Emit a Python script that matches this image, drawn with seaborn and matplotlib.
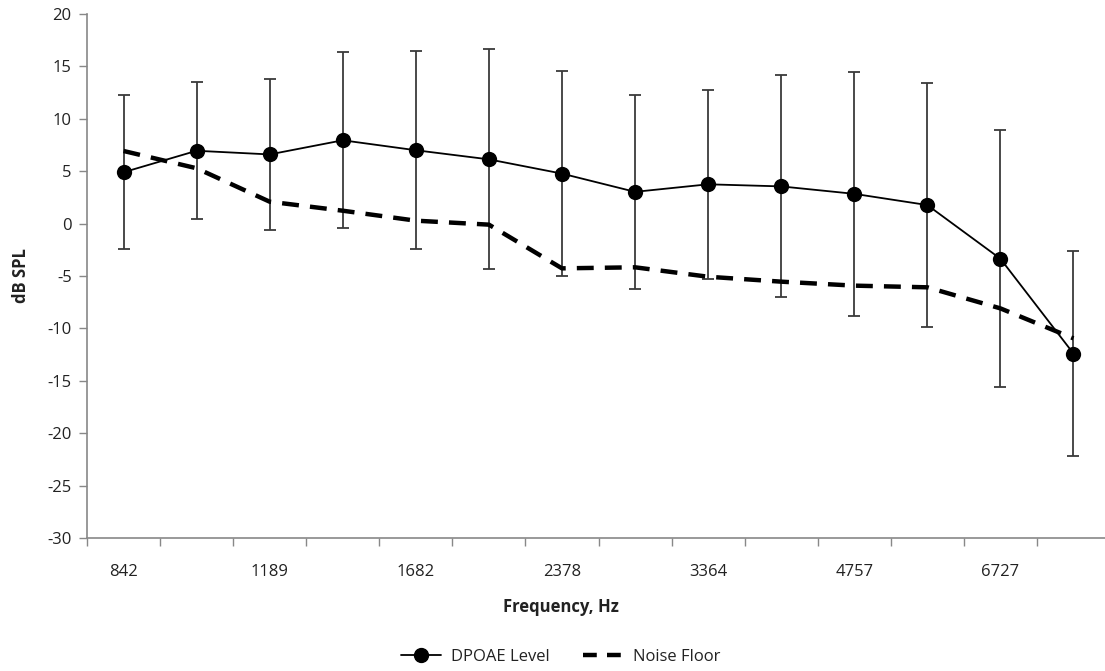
import numpy as np
import pandas as pd
import matplotlib
matplotlib.use("Agg")
import matplotlib.pyplot as plt
from matplotlib.lines import Line2D
import seaborn as sns

# Frequencies (Hz), DPOAE means, standard deviations and noise floor (dB SPL)
freqs = ["842", "1000", "1189", "1414", "1682", "2000", "2378", "2828",
         "3364", "4000", "4757", "5657", "6727", "8000"]
dpoae_level = [4.9, 6.95, 6.6, 7.95, 7.0, 6.13, 4.77, 3.03, 3.75, 3.55, 2.84, 1.77, -3.35, -12.4]
dpoae_sd = [7.35, 6.52, 7.22, 8.4, 9.46, 10.5, 9.77, 9.27, 9.0, 10.6, 11.63, 11.67, 12.25, 9.8]
noise_floor = [6.93, 5.28, 2.09, 1.23, 0.28, -0.1, -4.27, -4.17, -5.07, -5.54, -5.92, -6.08, -8.09, -10.95]

sns.set_theme(style="white")
plt.rcParams["font.family"] = ["Open Sans", "DejaVu Sans"]
plt.rcParams["axes.unicode_minus"] = False

df = pd.DataFrame({
    "pos": np.arange(len(freqs)),
    "freq": freqs,
    "dpoae": dpoae_level,
    "sd": dpoae_sd,
    "noise": noise_floor,
})

fig = plt.figure(figsize=(11.05, 6.71), dpi=100)
ax = fig.add_axes([87 / 1105, (671 - 538) / 671, (1110 - 87) / 1105, (538 - 14) / 671])

axis_grey = "#888888"
text_col = "#222222"
fs = 12

# error bars (±1 SD) behind the data lines
ax.errorbar(df["pos"], df["dpoae"], yerr=df["sd"], fmt="none",
            ecolor="#3a3a3a", elinewidth=1.3, capsize=4, capthick=1.3, zorder=2)

sns.lineplot(data=df, x="pos", y="noise", ax=ax, color="black",
             linewidth=3.2, dashes=False, zorder=3)
ax.lines[-1].set_dashes([3.8, 2.5])

sns.lineplot(data=df, x="pos", y="dpoae", ax=ax, color="black",
             linewidth=1.3, marker="o", markersize=11, markeredgewidth=0, zorder=4)

ax.set_xlim(-0.5, len(freqs) - 0.5)
ax.set_ylim(-30, 20)
ax.set_yticks(np.arange(-30, 21, 5))

# category boundaries carry the tick marks; every other category is labelled
ax.set_xticks(np.arange(-0.5, len(freqs), 1.0))
ax.set_xticklabels([])
ax.set_xticks(df["pos"][::2], minor=True)
ax.set_xticklabels(df["freq"][::2], minor=True)
ax.tick_params(axis="x", which="major", direction="out", length=6, width=1,
               color=axis_grey, bottom=True)
ax.tick_params(axis="x", which="minor", length=0, pad=19, labelsize=fs,
               labelcolor=text_col)
ax.tick_params(axis="y", direction="out", length=6, width=1, color=axis_grey,
               left=True, labelsize=fs, labelcolor=text_col, pad=5)

for side in ["top", "right"]:
    ax.spines[side].set_visible(False)
for side in ["left", "bottom"]:
    ax.spines[side].set_color(axis_grey)
    ax.spines[side].set_linewidth(1.2)

ax.set_xlabel("Frequency, Hz", fontsize=fs, fontweight="bold", color=text_col)
ax.xaxis.set_label_coords(0.463, (538 - 598) / 524)
ax.set_ylabel("dB SPL", fontsize=fs, fontweight="bold", color=text_col)
ax.yaxis.set_label_coords((30 - 87) / 1023, 0.5)
ax.grid(False)

handles = [
    Line2D([], [], color="black", linewidth=1.3, marker="o", markersize=10),
    Line2D([], [], color="black", linewidth=3.2, dashes=[3.1, 2.3]),
]
fig.legend(handles, ["DPOAE Level", "Noise Floor"], loc="center",
           bbox_to_anchor=(0.507, 0.021), ncol=2, frameon=False,
           fontsize=fs, handlelength=2.4, handletextpad=0.6, columnspacing=2.0,
           labelcolor=text_col)

fig.savefig("out.png", dpi=100)
